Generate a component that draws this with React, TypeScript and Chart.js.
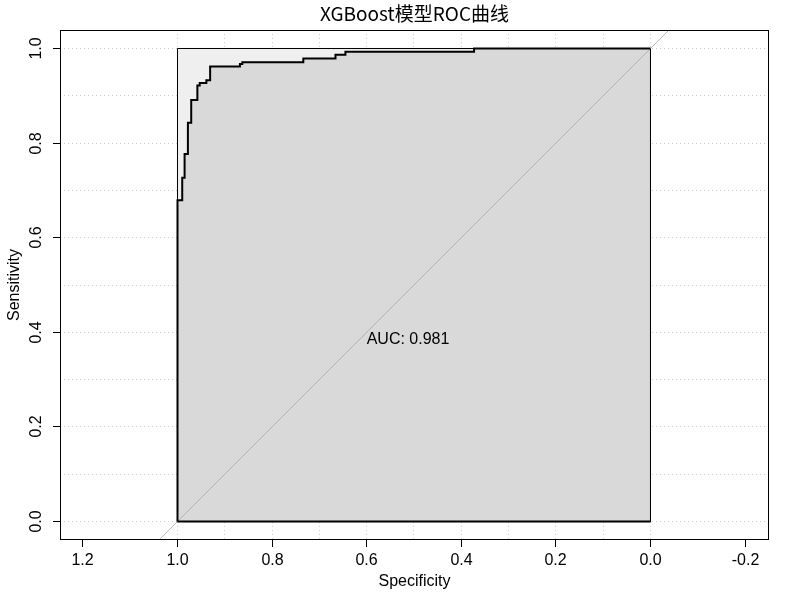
import React, { useEffect, useRef } from "react";
import { Chart, registerables } from "chart.js";

Chart.register(...registerables);

const TITLE = "XGBoost模型ROC曲线";
const X_LABEL = "Specificity";
const Y_LABEL = "Sensitivity";
const AUC_LABEL = "AUC: 0.981";
const AUC_POS = { x: 0.6, y: 0.4 };

// ROC curve points (specificity, sensitivity)
const specificity = [1, 1, 0.99, 0.985, 0.978, 0.971, 0.958, 0.953, 0.939, 0.931, 0.868, 0.863, 0.734, 0.666, 0.645, 0.373, 0];
const sensitivity = [0, 0.679, 0.727, 0.777, 0.843, 0.891, 0.922, 0.927, 0.933, 0.962, 0.967, 0.971, 0.979, 0.987, 0.993, 1, 1];

// max AUC square (fill top edge and outline) and identity line
const squareTopX = [1, 0];
const squareTopY = [1, 1];
const squareX = [1, 1, 0, 0, 1];
const squareY = [0, 1, 1, 0, 0];
const baseX = [1, 0];
const baseY = [0, 0];
const diagX = [1.2, -0.2];
const diagY = [-0.2, 1.2];

const X_TICKS = [1.2, 1.0, 0.8, 0.6, 0.4, 0.2, 0.0, -0.2];
const Y_TICKS = [0.0, 0.2, 0.4, 0.6, 0.8, 1.0];
const GRID_VALUES = [0, 0.1, 0.2, 0.3, 0.4, 0.5, 0.6, 0.7, 0.8, 0.9, 1.0];

const X_RANGE = { min: -0.25053, max: 1.24841 };
const Y_RANGE = { min: -0.03911, max: 1.03911 };

const pts = (xs: number[], ys: number[]) => xs.map((x, i) => ({ x, y: ys[i] }));

const LATIN = "'Liberation Sans', Arial, sans-serif";

const gridPlugin = {
  id: "rgrid",
  beforeDraw(chart: any) {
    const { ctx, chartArea: a, scales } = chart;
    const xs = scales.x;
    const ys = scales.y;
    ctx.save();
    ctx.beginPath();
    ctx.rect(a.left, a.top, a.right - a.left, a.bottom - a.top);
    ctx.clip();
    ctx.strokeStyle = "#CCCCCC";
    ctx.lineWidth = 1;
    ctx.setLineDash([1, 3]);
    for (const v of GRID_VALUES) {
      const py = Math.floor(ys.getPixelForValue(v)) + 0.5;
      ctx.beginPath();
      ctx.moveTo(a.left, py);
      ctx.lineTo(a.right, py);
      ctx.stroke();
      const px = Math.floor(xs.getPixelForValue(v)) + 0.5;
      ctx.beginPath();
      ctx.moveTo(px, a.top);
      ctx.lineTo(px, a.bottom);
      ctx.stroke();
    }
    ctx.restore();
  },
};

const axesPlugin = {
  id: "raxes",
  afterDraw(chart: any) {
    const { ctx, chartArea: a, scales } = chart;
    const xs = scales.x;
    const ys = scales.y;
    ctx.save();
    ctx.strokeStyle = "#000";
    ctx.fillStyle = "#000";
    ctx.lineWidth = 1;
    ctx.setLineDash([]);
    ctx.strokeRect(Math.round(a.left) + 0.5, Math.round(a.top) + 0.5, Math.round(a.right - a.left) - 1, Math.round(a.bottom - a.top) - 1);

    ctx.font = `16px ${LATIN}`;
    // x ticks
    ctx.textAlign = "center";
    ctx.textBaseline = "middle";
    for (const v of X_TICKS) {
      const px = Math.floor(xs.getPixelForValue(v)) + 0.5;
      ctx.beginPath();
      ctx.moveTo(px, a.bottom);
      ctx.lineTo(px, a.bottom + 7);
      ctx.stroke();
      ctx.fillText(v.toFixed(1), px, a.bottom + 21);
    }
    // y ticks
    for (const v of Y_TICKS) {
      const py = Math.floor(ys.getPixelForValue(v)) + 0.5;
      ctx.beginPath();
      ctx.moveTo(a.left, py);
      ctx.lineTo(a.left - 7, py);
      ctx.stroke();
      ctx.save();
      ctx.translate(a.left - 23, py);
      ctx.rotate(-Math.PI / 2);
      ctx.fillText(v.toFixed(1), 0, 0);
      ctx.restore();
    }
    // axis titles
    ctx.fillText(X_LABEL, (a.left + a.right) / 2, a.bottom + 42);
    ctx.save();
    ctx.translate(15, (a.top + a.bottom) / 2);
    ctx.rotate(-Math.PI / 2);
    ctx.fillText(Y_LABEL, 0, 0);
    ctx.restore();

    // AUC text
    ctx.textAlign = "left";
    ctx.textBaseline = "alphabetic";
    ctx.fillText(AUC_LABEL, xs.getPixelForValue(AUC_POS.x), ys.getPixelForValue(AUC_POS.y) + 12);

    // title
    ctx.font = `19px 'Noto Sans CJK SC', sans-serif`;
    ctx.textAlign = "center";
    ctx.fillText(TITLE, (a.left + a.right) / 2, 21);
    ctx.restore();
  },
};

export default function App() {
  const ref = useRef<HTMLCanvasElement>(null);
  useEffect(() => {
    const chart = new Chart(ref.current as HTMLCanvasElement, {
      type: "scatter",
      data: {
        datasets: [
          {
            label: "ROC",
            data: pts(specificity, sensitivity),
            showLine: true,
            stepped: "before",
            borderColor: "#000",
            borderWidth: 2,
            pointRadius: 0,
            fill: false,
          },
          {
            label: "auc polygon base",
            data: pts(baseX, baseY),
            showLine: true,
            borderColor: "#000",
            borderWidth: 2,
            pointRadius: 0,
            fill: false,
          },
          {
            label: "identity",
            data: pts(diagX, diagY),
            showLine: true,
            borderColor: "#B4B4B4",
            borderWidth: 1,
            pointRadius: 0,
            fill: false,
          },
          {
            label: "max auc outline",
            data: pts(squareX, squareY),
            showLine: true,
            borderColor: "#000",
            borderWidth: 1,
            pointRadius: 0,
            fill: false,
          },
          {
            label: "auc polygon",
            data: pts(specificity, sensitivity),
            showLine: true,
            stepped: "before",
            borderWidth: 0,
            borderColor: "rgba(0,0,0,0)",
            backgroundColor: "#D9D9D9",
            pointRadius: 0,
            fill: "origin",
          },
          {
            label: "max auc",
            data: pts(squareTopX, squareTopY),
            showLine: true,
            borderWidth: 0,
            borderColor: "rgba(0,0,0,0)",
            backgroundColor: "#EFEFEF",
            pointRadius: 0,
            fill: "origin",
          },
        ] as any,
      },
      options: {
        animation: false,
        responsive: false,
        devicePixelRatio: 1,
        layout: { padding: { left: 60, right: 31, top: 30, bottom: 60 } },
        scales: {
          x: { type: "linear", reverse: true, min: X_RANGE.min, max: X_RANGE.max, display: false },
          y: { type: "linear", min: Y_RANGE.min, max: Y_RANGE.max, display: false },
        },
        plugins: {
          legend: { display: false },
          tooltip: { enabled: false },
          filler: { drawTime: "beforeDatasetsDraw" },
        } as any,
        events: [],
      },
      plugins: [gridPlugin, axesPlugin],
    });
    return () => chart.destroy();
  }, []);
  return (
    <div style={{ position: "fixed", left: 0, top: 0, width: 800, height: 600, background: "#fff" }}>
      <canvas ref={ref} width={800} height={600} style={{ display: "block", width: 800, height: 600 }} />
    </div>
  );
}
